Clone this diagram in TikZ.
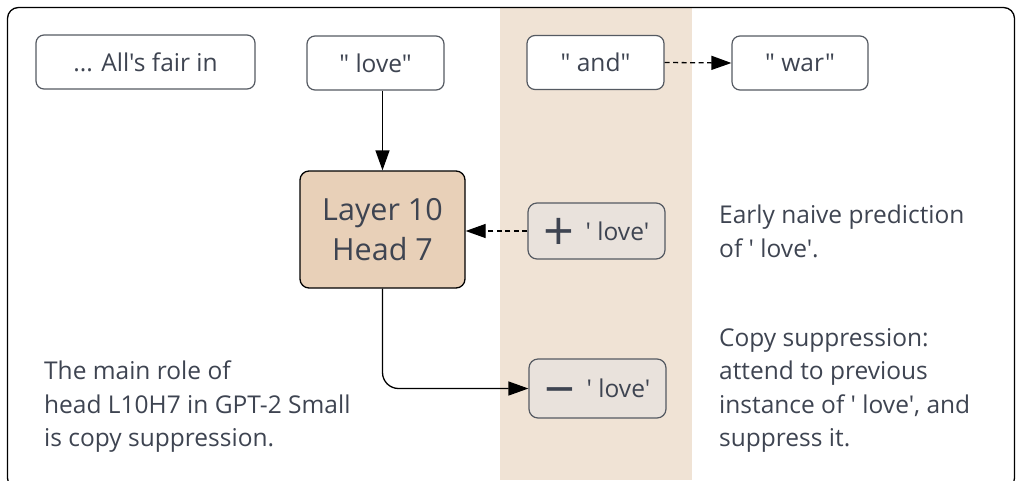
\documentclass[tikz,border=0pt]{standalone}
\usepackage{fontspec}
\setmainfont{Open Sans}[Ligatures=TeXOff]
\usetikzlibrary{arrows.meta}
\definecolor{inkgray}{HTML}{3E4451}
\definecolor{bandbeige}{HTML}{F0E3D5}
\definecolor{headfill}{HTML}{E8D0B8}
\definecolor{signfill}{HTML}{E9E2DC}
\definecolor{boxline}{HTML}{555A62}
\newcommand\signglyph[1]{\smash{\raisebox{-10.5pt}{\fontsize{54}{54}\selectfont #1}}}
\tikzset{
  token/.style={draw=boxline, line width=1.2pt, rounded corners=8pt, fill=white,
    text=inkgray, font=\fontsize{24.5}{28}\selectfont, minimum height=54pt, inner sep=0pt},
  headbox/.style={draw=black, line width=1.3pt, rounded corners=9pt, fill=headfill,
    text=inkgray, font=\fontsize{30.5}{40}\selectfont, align=center,
    minimum width=165pt, minimum height=117pt, inner sep=0pt},
  signbox/.style={draw=boxline, line width=1.2pt, rounded corners=9pt, fill=signfill,
    text=inkgray, font=\fontsize{24.5}{28}\selectfont, minimum width=137pt, inner sep=0pt},
  note/.style={text=inkgray, font=\fontsize{24.5}{33.5}\selectfont, align=left,
    inner sep=0pt, anchor=north west},
  link/.style={line width=1.3pt, -{Triangle[length=20pt,width=14pt]}},
  dashlink/.style={link, dash pattern=on 5pt off 3.5pt}
}
\begin{document}
\begin{tikzpicture}[x=1pt,y=-1pt]
  \useasboundingbox (0,0) rectangle (1016,480);
  % shaded column behind the current-token stack
  \fill[bandbeige] (500,8) rectangle (692,480);
  % outer frame (runs past the page on the right and bottom)
  \draw[line width=1.3pt, rounded corners=11pt] (7.5,7.5) rectangle (1014.5,489);

  % input tokens
  \node[token, minimum width=219pt] (fair) at (145.5,62) {... All's fair in};
  \node[token, minimum width=137pt] (love) at (375.5,63) {" love"};
  \node[token, minimum width=137pt] (and)  at (595.5,62.5) {" and"};
  \node[token, minimum width=136pt] (war)  at (800,63) {" war"};

  % the attention head
  \node[headbox] (head) at (382.5,229.5) {Layer 10\\Head 7};

  % contributions to the residual stream
  \node[signbox, minimum height=56pt] (plus) at (596.5,231)
    {\signglyph{+}\hspace{11pt}' love'\hspace{13pt}};
  \node[signbox, minimum height=59pt] (minus) at (597.5,388.5)
    {\signglyph{−}\hspace{11pt}' love'\hspace{13pt}};

  % connectors
  \draw[link] (love.south -| head.north) -- (head.north);
  \draw[dashlink] (and.east) -- (war.west);
  \draw[dashlink] (plus.west) -- (head.east |- plus.west);
  \draw[link, rounded corners=16pt] (head.south) |- (minus.west);

  % explanations
  \node[note] (role) at (44,361)
    {The main role of\\head L10H7 in GPT-2 Small\\is copy suppression.};
  \node[note] (naive) at (719,205)
    {Early naive prediction\\of ' love'.};
  \node[note] (supp) at (719,328)
    {Copy suppression:\\attend to previous\\instance of ' love', and\\suppress it.};
\end{tikzpicture}
\end{document}
